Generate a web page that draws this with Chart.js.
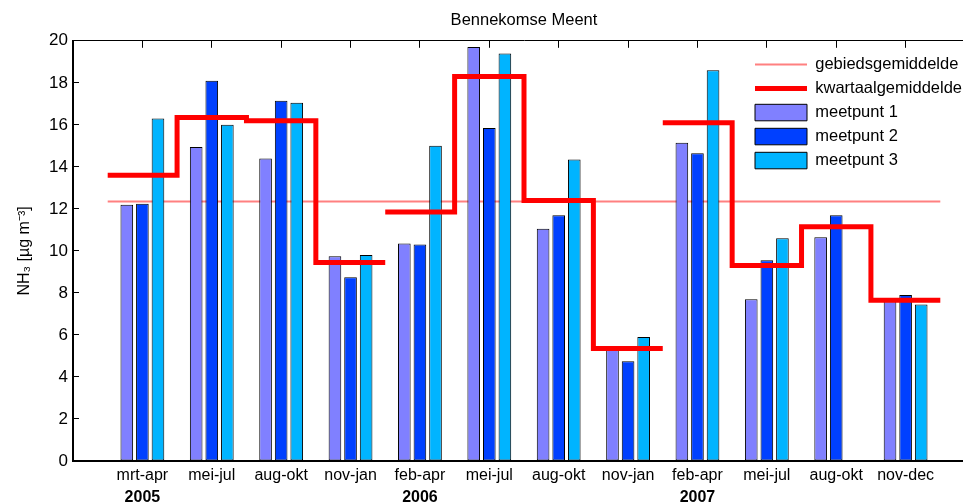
<!DOCTYPE html>
<html lang="nl">
<head>
<meta charset="utf-8">
<title>Bennekomse Meent - NH3</title>
<script src="https://cdn.jsdelivr.net/npm/chart.js@4/dist/chart.umd.min.js"></script>
<style>
  html, body { margin: 0; padding: 0; background: #fff; overflow: hidden; }
  #wrap { width: 1000px; height: 503px; }
</style>
</head>
<body>
<div id="wrap"><canvas id="grafiek" width="1000" height="503"></canvas></div>
<script>
// =============================
// DATA
// =============================
const kwartalen = ['mrt-apr', 'mei-jul', 'aug-okt', 'nov-jan',
                   'feb-apr', 'mei-jul', 'aug-okt', 'nov-jan',
                   'feb-apr', 'mei-jul', 'aug-okt', 'nov-dec'];
const jaren = ['2005', '2006', '2007'];
const jaarStart = [0, 4, 8];           // index van het eerste kwartaal per jaar

const meetpunt1 = [12.2, 14.95, 14.4, 9.75, 10.35, 19.7, 11.05, 5.4, 15.15, 7.7, 10.65, 7.6];
const meetpunt2 = [12.25, 18.1, 17.15, 8.75, 10.3, 15.85, 11.7, 4.75, 14.65, 9.55, 11.7, 7.9];
const meetpunt3 = [16.3, 16.0, 17.05, 9.8, 15.0, 19.4, 14.35, 5.9, 18.6, 10.6, null, 7.45];
const kwartaalgemiddelde = [13.6, 16.35, 16.2, 9.45, 11.85, 18.3, 12.4, 5.35, 16.1, 9.3, 11.15, 7.65];
const gebiedsgemiddelde = 12.35;

const yMin = 0, yMax = 20, yStap = 2;

// =============================
// HULPFUNCTIES
// =============================
// kwartaal i staat op x = i + 1, breedte 1
function staven(waarden) {
    return waarden.map((v, i) => ({ x: i + 1, y: v }));
}

// trapjeslijn, onderbroken bij de start van een nieuw jaar
function trapLijn(waarden) {
    const punten = [];
    waarden.forEach((v, i) => {
        if (i > 0 && jaarStart.includes(i)) punten.push({ x: i + 0.5, y: null });
        punten.push({ x: i + 0.5, y: v }, { x: i + 1.5, y: v });
    });
    return punten;
}

const kwartaalTicks = (scale) => { scale.ticks = kwartalen.map((_, i) => ({ value: i + 1 })); };
const jaarTicks = (scale) => { scale.ticks = jaarStart.map(i => ({ value: i + 1 })); };

// legenda rechtsboven in het plotvlak
const legendaPlek = {
    id: 'legendaPlek',
    afterLayout(chart) {
        const lg = chart.legend, ca = chart.chartArea;
        lg.left = ca.right - 227.5;
        lg.top = ca.top + 8;
        lg.right = ca.right;
        lg.bottom = ca.bottom;
    }
};

Chart.defaults.font.family = "'Liberation Sans', Arial, Helvetica, sans-serif";
Chart.defaults.color = '#000';

// =============================
// GRAFIEK
// =============================
new Chart(document.getElementById('grafiek'), {
    type: 'bar',
    data: {
        datasets: [
            {
                type: 'line',
                label: 'gebiedsgemiddelde',
                data: [{ x: 0.5, y: gebiedsgemiddelde }, { x: kwartalen.length + 0.5, y: gebiedsgemiddelde }],
                borderColor: '#ff8080',
                borderWidth: 2,
                pointRadius: 0,
                xAxisID: 'x',
                order: 2
            },
            {
                type: 'line',
                label: 'kwartaalgemiddelde',
                data: trapLijn(kwartaalgemiddelde),
                borderColor: '#ff0000',
                borderWidth: 5,
                borderJoinStyle: 'miter',
                borderCapStyle: 'butt',
                pointRadius: 0,
                spanGaps: false,
                xAxisID: 'x',
                order: 0
            },
            {
                label: 'meetpunt 1',
                data: staven(meetpunt1),
                backgroundColor: '#8080ff',
                borderColor: '#000',
                borderWidth: 1,
                borderSkipped: false,
                xAxisID: 'x',
                order: 1
            },
            {
                label: 'meetpunt 2',
                data: staven(meetpunt2),
                backgroundColor: '#0040ff',
                borderColor: '#000',
                borderWidth: 1,
                borderSkipped: false,
                xAxisID: 'x',
                order: 1
            },
            {
                label: 'meetpunt 3',
                data: staven(meetpunt3),
                backgroundColor: '#00b4ff',
                borderColor: '#000',
                borderWidth: 1,
                borderSkipped: false,
                xAxisID: 'x',
                order: 1
            }
        ]
    },
    options: {
        responsive: false,
        animation: false,
        categoryPercentage: 0.674,
        barPercentage: 0.81,
        layout: { padding: { left: 0, right: 25, top: 0, bottom: 0 } },
        plugins: {
            tooltip: { enabled: false },
            title: {
                display: true,
                text: 'Bennekomse Meent',
                fullSize: false,
                font: { size: 16.5, weight: 'normal' },
                padding: { top: 11, bottom: 10 }
            },
            legend: {
                position: 'chartArea',
                align: 'start',
                labels: {
                    font: { size: 16.5 },
                    usePointStyle: true,
                    pointStyleWidth: 52,
                    boxHeight: 17,
                    padding: 7.5,
                    sort: (a, b) => a.datasetIndex - b.datasetIndex,
                    generateLabels(chart) {
                        const items = Chart.defaults.plugins.legend.labels.generateLabels(chart);
                        items.forEach(it => {
                            const ds = chart.data.datasets[it.datasetIndex];
                            if (ds.type === 'line') {
                                it.pointStyle = 'line';
                                it.lineWidth = ds.borderWidth;
                                it.strokeStyle = ds.borderColor;
                            } else {
                                it.pointStyle = 'rect';
                                it.lineWidth = 1;
                            }
                        });
                        return items;
                    }
                }
            }
        },
        scales: {
            x: {
                type: 'linear',
                position: 'bottom',
                min: 0,
                max: kwartalen.length + 1,
                offset: false,
                afterBuildTicks: kwartaalTicks,
                ticks: {
                    callback: (v) => kwartalen[Math.round(v) - 1],
                    font: { size: 16 },
                    padding: 5,
                    maxRotation: 0,
                    autoSkip: false
                },
                grid: { display: false, drawTicks: false, offset: false },
                border: { color: '#000', width: 2 },
                afterFit: (s) => { s.height = 24; }
            },
            jaar: {
                type: 'linear',
                position: 'bottom',
                min: 0,
                max: kwartalen.length + 1,
                offset: false,
                afterBuildTicks: jaarTicks,
                ticks: {
                    callback: (v, i) => jaren[i],
                    font: { size: 16, weight: 'bold' },
                    padding: 3,
                    maxRotation: 0,
                    autoSkip: false
                },
                grid: { display: false, drawTicks: false, offset: false },
                border: { display: false },
                afterFit: (s) => { s.height = 18; }
            },
            boven: {
                type: 'linear',
                position: 'top',
                min: 0,
                max: kwartalen.length + 1,
                offset: false,
                afterBuildTicks: kwartaalTicks,
                ticks: { display: false },
                grid: {
                    display: true,
                    offset: false,
                    drawOnChartArea: false,
                    drawTicks: true,
                    tickLength: -7,
                    color: '#000',
                    lineWidth: 1
                },
                border: { display: true, color: '#000', width: 1 },
                afterFit: (s) => { s.height = 0; }
            },
            y: {
                min: yMin,
                max: yMax,
                ticks: { stepSize: yStap, font: { size: 17 }, padding: 11 },
                grid: {
                    drawOnChartArea: false,
                    drawTicks: true,
                    tickLength: -6,
                    color: '#000'
                },
                border: { color: '#000', width: 2 },
                title: {
                    display: true,
                    text: 'NH₃ [µg m⁻³]',
                    font: { size: 16 },
                    padding: { top: 15, bottom: 0 }
                },
                afterFit: (s) => { s.width = 73; }
            }
        }
    },
    plugins: [legendaPlek]
});
</script>
</body>
</html>
